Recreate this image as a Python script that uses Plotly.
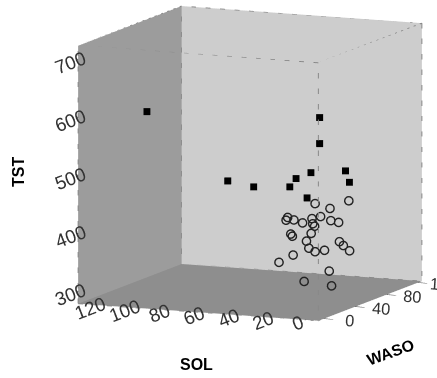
import plotly.graph_objects as go

# ---- data ----
# group 1: filled squares
sq_sol  = [100, 0, 0, 60, 45, 20, 15, 10, 5, 10, 10]
sq_waso = [11, 11, 11, 26, 26, 17, 14, 22, 55, 71, 17]
sq_tst  = [608, 619, 574, 489, 482, 492, 509, 516, 503, 474, 475]

# group 2: open circles
ci_sol  = [10, 15, 20, 25, 20, 15, 10, 5, 10, 15, 8, 5, 10, 5,
           20, 15, 10, 5, 10, 5, 5, 10, 15, 15, 20, 5, 10, 5]
ci_waso = [27, 57, 92, 25, 12, 11, 11, 12, 34, 35, 22, 36, 57, 11,
           18, 9, 16, 8, 27, 28, 47, 63, 82, 10, 3, 34, 13, 37]
ci_tst  = [460, 435, 429, 434, 437, 439, 435, 443, 434, 420, 424, 427, 412, 418,
           410, 412, 401, 394, 377, 380, 385, 369, 349, 379, 369, 341, 333, 314]

sol_range = [-7.5, 131.6]
waso_range = [-7, 125]
tst_range = [279, 724]
sol_ticks = [0, 20, 40, 60, 80, 100, 120]
waso_ticks = [0, 40, 80, 120]
tst_ticks = [300, 400, 500, 600, 700]

fig = go.Figure()

# box edges (dashed)
x0, x1 = waso_range
y0, y1 = sol_range
z0, z1 = tst_range
ex, ey, ez = [], [], []
corners = [(a, b) for a in (x0, x1) for b in (y0, y1)]
for zz in (z0, z1):
    for (a1, b1), (a2, b2) in [((x0, y0), (x1, y0)), ((x1, y0), (x1, y1)),
                               ((x1, y1), (x0, y1)), ((x0, y1), (x0, y0))]:
        ex += [a1, a2, None]; ey += [b1, b2, None]; ez += [zz, zz, None]
for a, b in corners:
    ex += [a, a, None]; ey += [b, b, None]; ez += [z0, z1, None]
fig.add_trace(go.Scatter3d(x=ex, y=ey, z=ez, mode="lines",
                           line=dict(color="#888888", width=2, dash="dot"),
                           hoverinfo="skip", showlegend=False))

fig.add_trace(go.Scatter3d(x=ci_waso, y=ci_sol, z=ci_tst, mode="markers",
                           marker=dict(symbol="circle-open", size=5.2, color="#222222",
                                       line=dict(color="#222222", width=1.5)),
                           showlegend=False))
fig.add_trace(go.Scatter3d(x=sq_waso, y=sq_sol, z=sq_tst, mode="markers",
                           marker=dict(symbol="square", size=3.6, color="#000000"),
                           showlegend=False))

axis_common = dict(showgrid=False, zeroline=False, showspikes=False,
                   ticks="outside", ticklen=10, tickcolor="#333333", tickwidth=2,
                   tickfont=dict(family="Liberation Sans, Arial", size=15, color="#333333"),
                   showline=False, title=dict(text=""), showbackground=True)

cx, cy, cz = -0.0866, 0.1444, -0.1334
fig.update_layout(
    width=437, height=378,
    margin=dict(l=0, r=0, t=0, b=0),
    paper_bgcolor="white",
    hovermode=False,
    scene=dict(
        domain=dict(x=[0, 1.0], y=[0, 1.0]),
        xaxis=dict(axis_common, range=waso_range, tickvals=waso_ticks,
                   backgroundcolor="#cdcdcd", ticklen=2,
                   tickfont=dict(family="Liberation Sans, Arial", size=14, color="#333333")),
        yaxis=dict(axis_common, range=sol_range, tickvals=sol_ticks,
                   backgroundcolor="#9c9c9c"),
        zaxis=dict(axis_common, range=tst_range, tickvals=tst_ticks,
                   backgroundcolor="#8e8e8e"),
        aspectmode="manual",
        aspectratio=dict(x=1.384, y=1.384, z=1.384),
        camera=dict(eye=dict(x=-1.81 + cx, y=-0.78 + cy, z=0.33 + cz),
                    up=dict(x=0, y=0, z=1),
                    center=dict(x=cx, y=cy, z=cz),
                    projection=dict(type="orthographic")),
    ),
)
# pixel annotation positions -> paper coords
W, H = 437, 378
ann = [
    dict(text="<b>TST</b>", px=18, py=172, angle=-90),
    dict(text="<b>SOL</b>", px=196, py=364, angle=0),
    dict(text="<b>WASO</b>", px=390, py=352, angle=-20),
]
fig.layout.annotations = [
    dict(text=a["text"], x=a["px"] / W, y=1 - a["py"] / H, xref="paper", yref="paper",
         showarrow=False, textangle=a["angle"], xanchor="center", yanchor="middle",
         font=dict(family="Liberation Sans, Arial", size=16, color="#000"))
    for a in ann
]

fig.write_html("out.html", config=dict(displayModeBar=False),
               post_script="document.body.style.margin='0';")
